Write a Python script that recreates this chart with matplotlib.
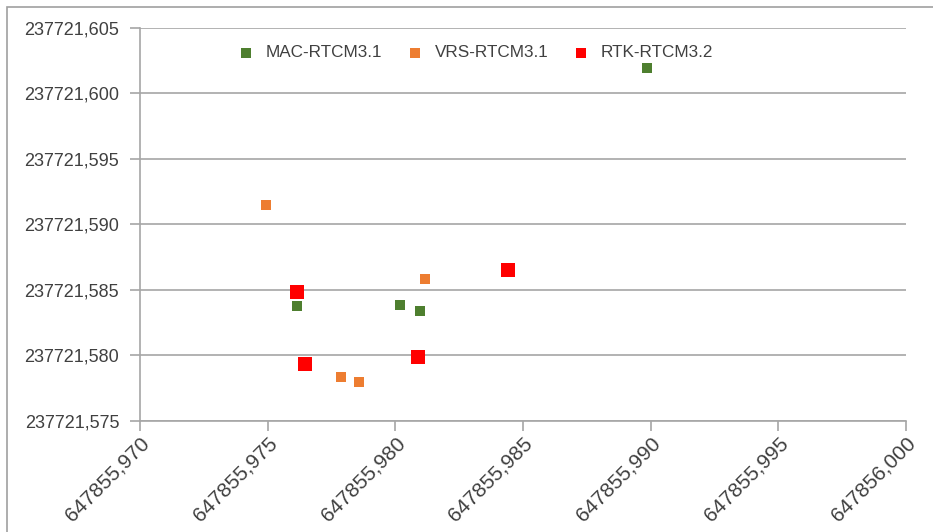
import matplotlib
matplotlib.use("Agg")
import matplotlib.pyplot as plt
from matplotlib.ticker import FuncFormatter, MultipleLocator
from matplotlib.patches import Rectangle

plt.rcParams['font.family'] = ['Liberation Sans', 'DejaVu Sans']

mac_x = [647855.98985, 647855.97615, 647855.98018, 647855.98096]
mac_y = [237721.60195, 237721.58380, 237721.58385, 237721.58342]
vrs_x = [647855.97493, 647855.98116, 647855.97787, 647855.97857]
vrs_y = [237721.59149, 237721.58584, 237721.57836, 237721.57798]
rtk_x = [647855.97615, 647855.97646, 647855.98088, 647855.98441]
rtk_y = [237721.58485, 237721.57935, 237721.57989, 237721.58653]

series_names = ['MAC-RTCM3.1', 'VRS-RTCM3.1', 'RTK-RTCM3.2']
colors = ['#4E7F2F', '#ED7D31', '#FF0000']

fig = plt.figure(figsize=(9.33, 5.32), dpi=100)
ax = fig.add_axes([140/933, 1 - 421/532, (906-140)/933, (421-28)/532])

ax.scatter(mac_x, mac_y, marker='s', s=52, color=colors[0], label=series_names[0], zorder=3, linewidths=0)
ax.scatter(vrs_x, vrs_y, marker='s', s=62, color=colors[1], label=series_names[1], zorder=3, linewidths=0)
ax.scatter(rtk_x, rtk_y, marker='s', s=88, color=colors[2], label=series_names[2], zorder=3, linewidths=0)

ax.set_xlim(647855.970, 647856.000)
ax.set_ylim(237721.575, 237721.605)
ax.xaxis.set_major_locator(MultipleLocator(0.005))
ax.yaxis.set_major_locator(MultipleLocator(0.005))

def fmt(v, pos):
    return f"{v:.3f}".replace('.', ',')

ax.xaxis.set_major_formatter(FuncFormatter(fmt))
ax.yaxis.set_major_formatter(FuncFormatter(fmt))

ax.grid(axis='y', color='#A6A6A6', linewidth=1.2)
ax.set_axisbelow(True)
for s in ['top', 'right']:
    ax.spines[s].set_visible(False)
ax.spines['left'].set_color('#A6A6A6')
ax.spines['bottom'].set_color('#A6A6A6')
ax.spines['left'].set_linewidth(1.2)
ax.spines['bottom'].set_linewidth(1.2)
ax.tick_params(axis='both', color='#A6A6A6', length=7, width=1.2, labelcolor='#404040')
ax.tick_params(axis='y', labelsize=13, pad=8)
ax.tick_params(axis='x', labelsize=15, pad=2)
for lbl in ax.get_xticklabels():
    lbl.set_rotation(45)
    lbl.set_ha('right')
    lbl.set_va('top')
    lbl.set_rotation_mode('anchor')

leg = ax.legend(loc='upper center', bbox_to_anchor=(0.432, 0.995), ncol=3, frameon=False,
                fontsize=12.3, handletextpad=0.15, columnspacing=0.9,
                labelcolor='#404040')
for h in leg.legend_handles:
    h.set_sizes([48])

fig.patches.append(Rectangle((7/933, -0.1), 2, 1.1 - 7/532, transform=fig.transFigure,
                             fill=False, edgecolor='#A0A0A0', linewidth=1.2))

fig.savefig('out.png', dpi=100)
